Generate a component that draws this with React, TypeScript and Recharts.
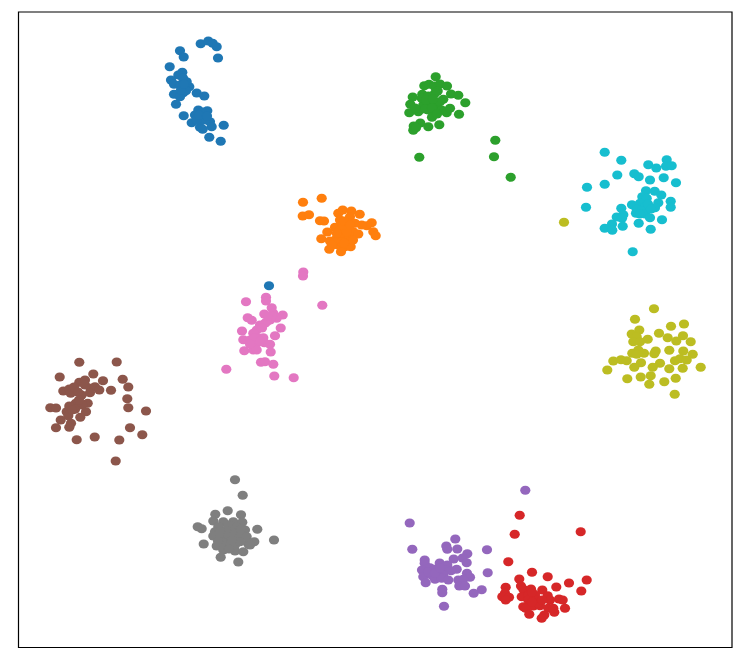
import { ScatterChart, Scatter, XAxis, YAxis, ReferenceArea } from "recharts";

// values, in picture units (y grows downwards)
const cluster0 = [[200.7,43.7],[208.3,41],[212.7,43.3],[216.7,46.7],[218,58],[180,50.7],[183.7,57],[169.7,66.7],[182.3,72.3],[178.3,75],[171,80],[174,84.3],[186.7,81.7],[183,78],[180,85],[189.3,86.7],[185,88.3],[183.3,92.7],[174,94.3],[180,96.7],[186,90.7],[196.7,93],[204.3,96],[176,104.3],[183.7,115.7],[198.3,110],[207.3,110.7],[195,115],[203.3,115],[191.7,122.7],[210,121.7],[199.3,120],[211.7,126.7],[200,127.3],[202.7,129.3],[223.7,125.3],[209.3,137.3],[220.7,141.3],[205,120],[196.7,120],[269,285.7],[181,90],[184,84],[202,112],[199,115],[207,116]];
const cluster1 = [[303,202.3],[321.7,198.3],[302.7,216],[309,214.7],[320,220.7],[324,221],[342.7,210],[338.3,213.3],[351.3,211],[359.7,214.3],[350,216.7],[340,220],[371.7,222.7],[366.7,225.7],[361.7,225],[355,223.3],[335,227.3],[346.7,226.7],[327.3,232],[340,230],[353.3,231.7],[358.3,234],[373.3,231.7],[375.7,235.7],[321.3,238.7],[330,241],[336.7,238.3],[343.3,235],[348.3,238.3],[329.3,249.3],[338.3,245],[345,246.7],[350.7,246.7],[341,251.7],[335,241.7],[341.7,241.7],[346.7,231.7],[336.7,233.3],[343,225],[344,221],[350,225],[332,245],[353,240],[344,243]];
const cluster2 = [[435.7,76.7],[424.3,85.7],[429,84.3],[434.3,86],[440,84],[447,86],[437.7,91],[435,93.3],[451,94],[458.3,95.3],[465.3,102.7],[459,114.3],[412.7,97],[422.3,94.3],[428.3,96],[410.3,104.3],[409.3,112.7],[418.3,111.7],[423.3,105],[421.7,98.3],[430,103.3],[428.3,110],[436.7,105],[443.3,99.3],[440,101.7],[435,110],[441.7,110],[446.7,112.7],[450,108.3],[432,117.3],[439.3,124.7],[428.3,126.7],[420.3,123],[413.7,126],[413.3,130.3],[416,127.7],[495.3,140.3],[494,156.7],[510.7,177.3],[419.3,157.3],[426,100],[433,99],[425,109],[432,108],[437,114],[415,108]];
const cluster3 = [[519.7,515.3],[514.7,534.3],[580.7,531.7],[508.3,561.7],[532,572.3],[547.7,576.7],[586.7,580],[569,583],[519.3,579],[556.3,587],[581.3,591],[505.7,587.3],[521,586],[505,593.3],[502.3,596.7],[509,597.3],[505.7,600],[523.3,589.3],[531,589],[542.3,590],[521.7,596.7],[528.3,595],[535,595],[547.7,595.7],[528.3,600],[536.7,600],[550,600],[559,599],[562.7,600],[523.3,606.7],[533.3,606],[540,605.7],[548.3,608.3],[565,608.3],[554.3,612.3],[525.7,608.3],[529.3,614.3],[544.3,615],[541.7,618.3],[553.3,608.3],[532,592],[538,603],[532,602],[542,600]];
const cluster4 = [[409.7,523],[455.3,539],[446.3,546],[447.3,549.3],[457.3,549],[412.3,549.3],[487,549.7],[467.3,553.7],[462.7,558],[453.7,559],[466.7,562.7],[424.7,560],[424.7,563.3],[439.7,563],[447.3,565],[422,570],[430,567.7],[435,569.3],[445,570],[456.7,569.3],[451,570.7],[487.7,572.7],[423.3,576.7],[431.7,575],[438.3,574.3],[443.3,575],[435,579.3],[425.7,582.7],[441.7,578.3],[448.3,580],[467,573.3],[470,577.3],[458.3,580],[463.3,579.3],[459.3,586],[465,586],[481.7,589.7],[473.7,593.3],[442.3,589.3],[442.3,592.7],[444,606.3],[525.3,490.3],[428,572],[435,573],[440,568]];
const cluster5 = [[79.3,362.3],[116.7,362],[59.7,377],[93.3,374],[103,380.7],[122.7,379.3],[128.3,387],[111,390.3],[127.3,398.7],[128.3,407.7],[146,411],[130,427.7],[142.3,434.7],[119.3,440],[94.7,437],[76.7,439.7],[115.7,461],[56,427.7],[60.7,420],[71,423.3],[69.3,427.3],[50.3,407.7],[56,408],[63.3,391],[69.3,389],[70.7,393.3],[79.3,382.3],[85,380],[85,385],[90.7,388.3],[95,386.7],[99.3,390],[81.7,395],[90,392.7],[75.7,403.3],[69.3,406],[87.7,403.3],[82.3,405],[66.7,411.7],[75,409.3],[86,411.7],[80.3,417.3],[68.3,415.7],[74,387],[78,392],[72,410],[79,400]];
const cluster6 = [[303.3,272],[303,276],[322.3,305.3],[266,297.3],[266,301],[246,301.7],[271.7,307.7],[247.7,317.7],[251.7,320.3],[264.3,314],[282.7,315],[273.3,313.3],[276.7,318.3],[270,320],[265,323.3],[260,325],[280.7,328],[256.7,330],[242,331],[253.3,333.3],[275,335.7],[243.3,339.7],[250,340],[258.3,337.7],[263.3,337.7],[256.7,343.3],[264.3,342.7],[270,344.3],[244.3,350.7],[253.3,350],[256.7,350],[270.7,352],[261,362.3],[265,361.7],[273.3,364.3],[226.3,369.3],[274.3,376],[293.7,377.7],[266.7,321.7],[254,338],[250,344],[260,341],[262,328],[272,316],[268,316]];
const cluster7 = [[235,479.7],[242.7,495.3],[227.7,510.7],[215.3,514.3],[241,514.7],[197.7,526.7],[201.7,528.7],[257.3,529.3],[274,540],[203.7,544],[213.3,521],[223.3,521.7],[233.3,521.7],[242.3,522.3],[218.3,526.7],[228.3,525],[236.7,527.3],[245,530],[215,531.7],[223.3,531.7],[213.3,536],[220,536.7],[228.3,536.7],[238.3,535],[246.7,536.7],[254.3,541.7],[248.3,544],[216.7,546],[226.7,545],[235,545],[223.3,550],[235,551],[243.3,551.7],[220.7,557.3],[238.3,562],[250,545],[240,541.7],[221.7,541.7],[232,532],[226,530],[220,531],[232,540],[241,529],[229,549],[218,541]];
const cluster8 = [[654,308.7],[635,319.3],[671,326.3],[684,324],[639.3,330],[631.7,334],[659,333.3],[667.7,337.7],[683,335.7],[676.3,341],[690.7,341.7],[636.7,336.7],[647.7,339.3],[633.3,341.7],[640,341.7],[638.3,350],[632.3,353.3],[636.7,354.3],[644,353.3],[655.7,351],[654.3,353.7],[669.3,350.3],[683.3,351],[692.7,354.3],[613.3,361],[621,359.7],[626.7,360.7],[607.3,370],[641,362.7],[634.3,367.3],[660,363.3],[652.7,367.3],[669.3,368.7],[675,360.7],[680,358.7],[686.7,360],[682.7,368.3],[700.7,367.3],[627.3,378.7],[640.7,377],[650.7,375.7],[649.3,384.3],[664.3,381.7],[675.7,378.3],[674.7,394.3],[564,222.3]];
const cluster9 = [[604.7,152.3],[621.3,160.3],[648.3,164.7],[656.3,168],[666.7,159.7],[666,166.3],[671.7,165.7],[617.3,175],[634.3,173.7],[638.7,176.7],[650,180],[663.7,177.7],[676,182.7],[604.7,184.3],[587,187.3],[586,207.3],[646,190.7],[654.7,191.3],[661.3,195],[642.3,196.7],[646.7,198.3],[658.3,202.7],[670.7,201.3],[670.7,207.3],[632,204.7],[640,203.3],[645,206.7],[655,207.7],[636.7,209.3],[641.7,210.7],[636,213.3],[621.3,208.3],[623.3,214.7],[616.7,217],[622,218.3],[645,214],[650,217.7],[662,219.7],[638.7,223.3],[622.7,226.3],[612,224],[604.7,228.3],[612.3,230.3],[650.7,229.3],[632.7,251.7],[648,204],[640,214],[651,209]];

const clusters = [cluster0, cluster1, cluster2, cluster3, cluster4, cluster5, cluster6, cluster7, cluster8, cluster9];
const colors = ["#1f77b4", "#ff7f0e", "#2ca02c", "#d62728", "#9467bd", "#8c564b", "#e377c2", "#7f7f7f", "#bcbd22", "#17becf"];

const X_RANGE = [18, 732];
const Y_RANGE = [12, 647];

export default function App() {
  return (
    <div style={{ position: "absolute", left: 0, top: 0, width: 747, height: 664, background: "#fff" }}>
      <ScatterChart
        width={747}
        height={664}
        margin={{ top: 12, right: 15, bottom: 17, left: 18 }}
      >
        <XAxis type="number" dataKey="x" domain={X_RANGE} allowDataOverflow hide />
        <YAxis type="number" dataKey="y" domain={Y_RANGE} allowDataOverflow reversed hide />
        {clusters.map((pts, i) => (
          <Scatter
            key={i}
            data={pts.map(([x, y]) => ({ x, y }))}
            fill={colors[i]}
            isAnimationActive={false}
            shape={(p: any) => <ellipse cx={p.cx} cy={p.cy} rx={5.1} ry={4.5} fill={colors[i]} />}
          />
        ))}
        <ReferenceArea
          x1={18.5}
          x2={X_RANGE[1]}
          y1={Y_RANGE[0]}
          y2={647.5}
          fill="none"
          fillOpacity={0}
          stroke="#000"
          strokeWidth={1.2}
          ifOverflow="visible"
        />
      </ScatterChart>
    </div>
  );
}
